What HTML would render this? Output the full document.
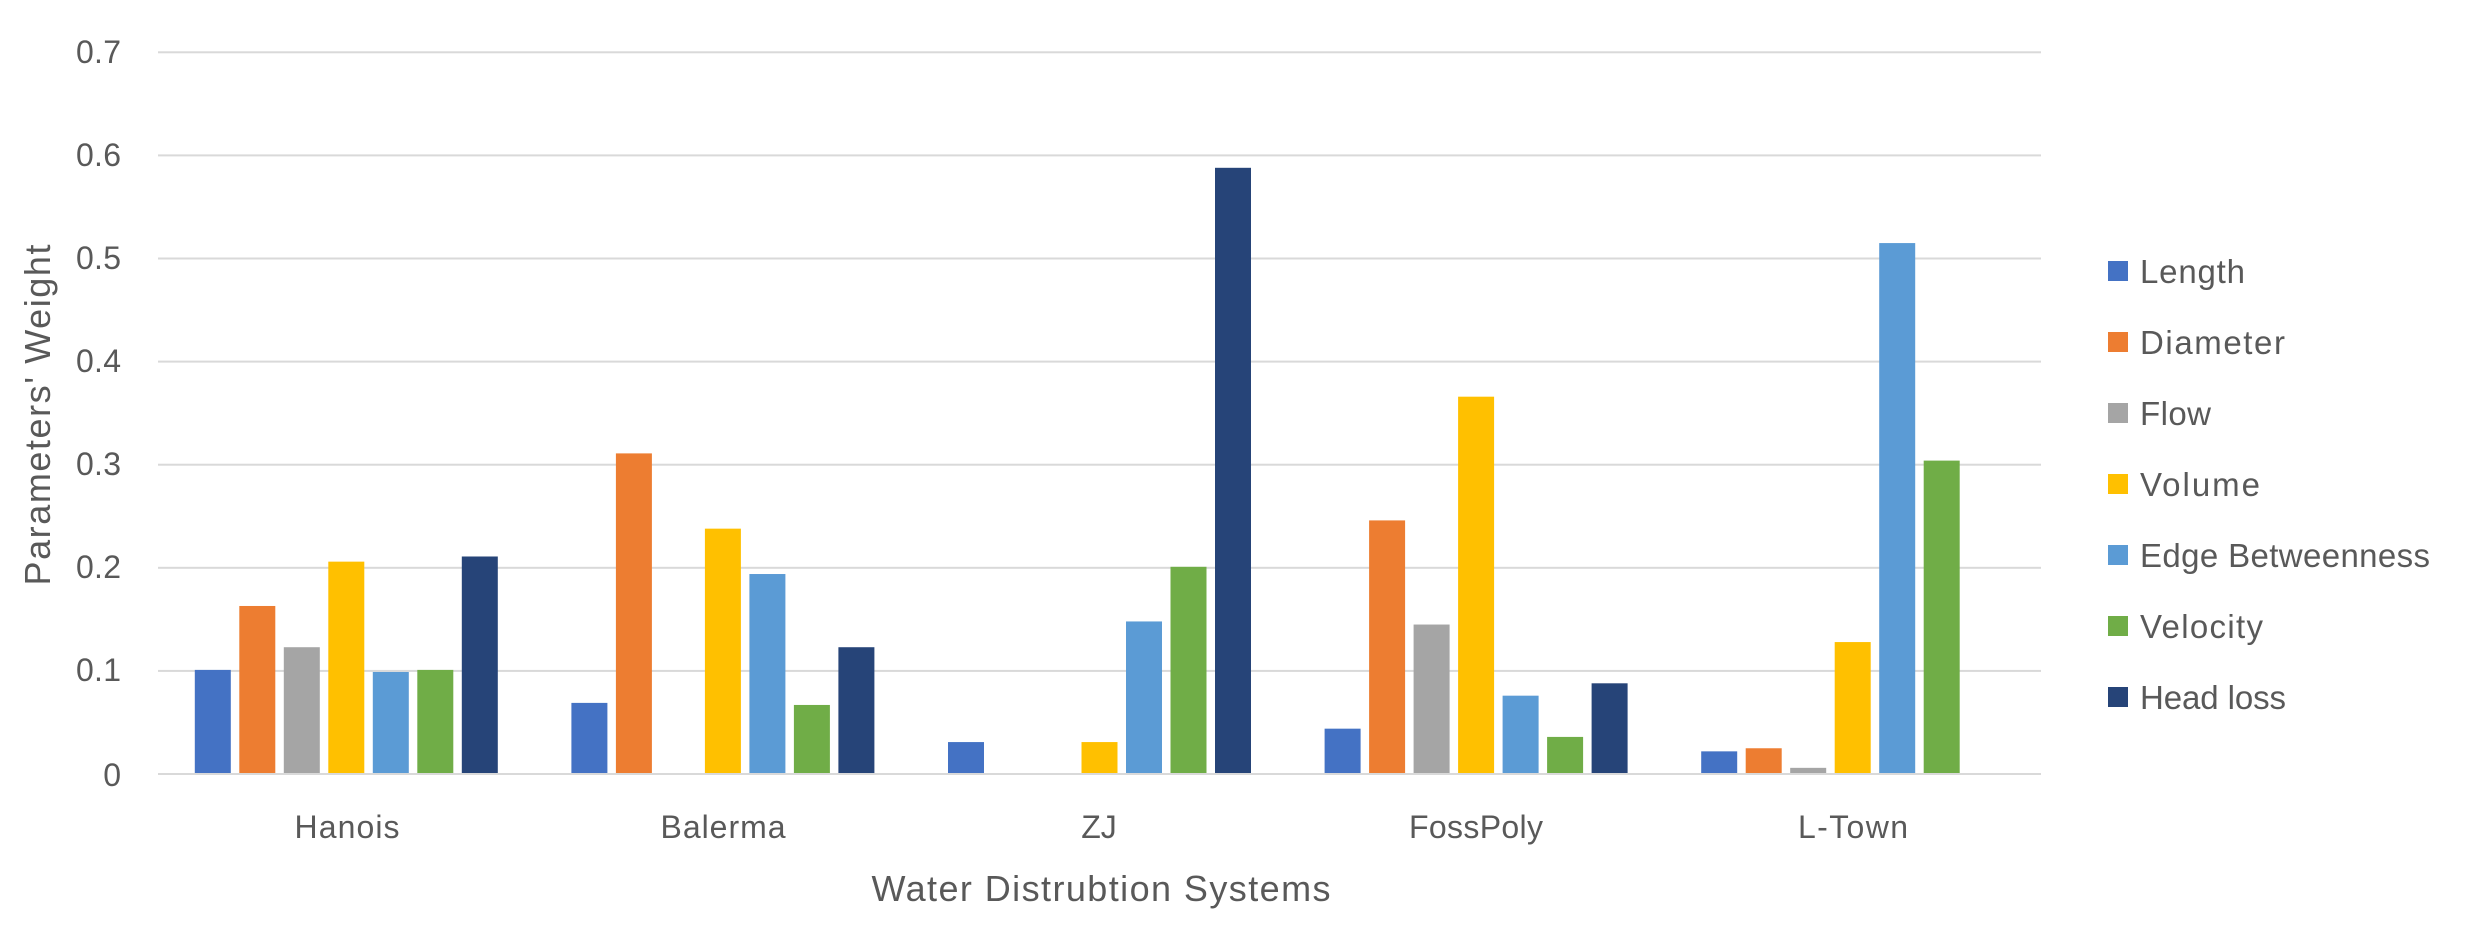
<!DOCTYPE html>
<html><head><meta charset="utf-8"><style>
html,body{margin:0;padding:0;background:#fff;width:2476px;height:928px;overflow:hidden}
text{font-family:"Liberation Sans",sans-serif;fill:#595959}
</style></head><body>
<svg id="s" width="2476" height="928" xmlns="http://www.w3.org/2000/svg">
<g id="grid"></g><g id="bars"></g>
<g font-size="32">
<text x="121" y="63" text-anchor="end" textLength="45">0.7</text>
<text x="121" y="166" text-anchor="end" textLength="45">0.6</text>
<text x="121" y="269" text-anchor="end" textLength="45">0.5</text>
<text x="121" y="372" text-anchor="end" textLength="45">0.4</text>
<text x="121" y="475" text-anchor="end" textLength="45">0.3</text>
<text x="121" y="578" text-anchor="end" textLength="45">0.2</text>
<text x="121" y="681" text-anchor="end" textLength="45">0.1</text>
<text x="121" y="786" text-anchor="end">0</text>
</g>
<g font-size="32" text-anchor="middle">
<text x="347" y="838" textLength="105">Hanois</text>
<text x="723" y="838" textLength="125">Balerma</text>
<text x="1099" y="838">ZJ</text>
<text x="1476" y="838" textLength="134">FossPoly</text>
<text x="1853" y="838" textLength="110">L-Town</text>
</g>
<text x="1101" y="901" font-size="36" text-anchor="middle" textLength="459">Water Distrubtion Systems</text>
<text transform="translate(50,415) rotate(-90)" font-size="36" text-anchor="middle" textLength="341">Parameters' Weight</text>
<g id="leg" font-size="33"></g>
</svg>
<script>
var C=["#4472C4","#ED7D31","#A5A5A5","#FFC000","#5B9BD5","#70AD47","#264478"];
var D=[[0.1,0.162,0.122,0.205,0.098,0.1,0.21],[0.068,0.31,0,0.237,0.193,0.066,0.122],[0.03,0,0,0.03,0.147,0.2,0.587],[0.043,0.245,0.144,0.365,0.075,0.035,0.087],[0.021,0.024,0.005,0.127,0.514,0.303,0]];
var ns="http://www.w3.org/2000/svg";
function el(p,t,a){var e=document.createElementNS(ns,t);for(var k in a)e.setAttribute(k,a[k]);p.appendChild(e);return e;}
var g=document.getElementById("grid");
for(var i=0;i<=7;i++){var y=774-i*103.1;el(g,"rect",{x:158,y:y-1,width:1883,height:2,fill:"#D9D9D9"});}
var b=document.getElementById("bars");
for(var i=0;i<5;i++){var c=158+376.6*(i+0.5);for(var j=0;j<7;j++){var v=D[i][j];if(v<=0)continue;var h=v*1031;el(b,"rect",{x:c-151.5+j*44.5,y:773-h,width:36,height:h,fill:C[j]});}}
var L=["Length","Diameter","Flow","Volume","Edge Betweenness","Velocity","Head loss"],W=[105,145,71,120,290,123,146];
var lg=document.getElementById("leg");
for(var j=0;j<7;j++){var y=271+j*71;el(lg,"rect",{x:2108,y:y-10,width:20,height:20,fill:C[j]});var t=el(lg,"text",{x:2140,y:y+12,textLength:W[j]});t.textContent=L[j];}
</script>
</body></html>
